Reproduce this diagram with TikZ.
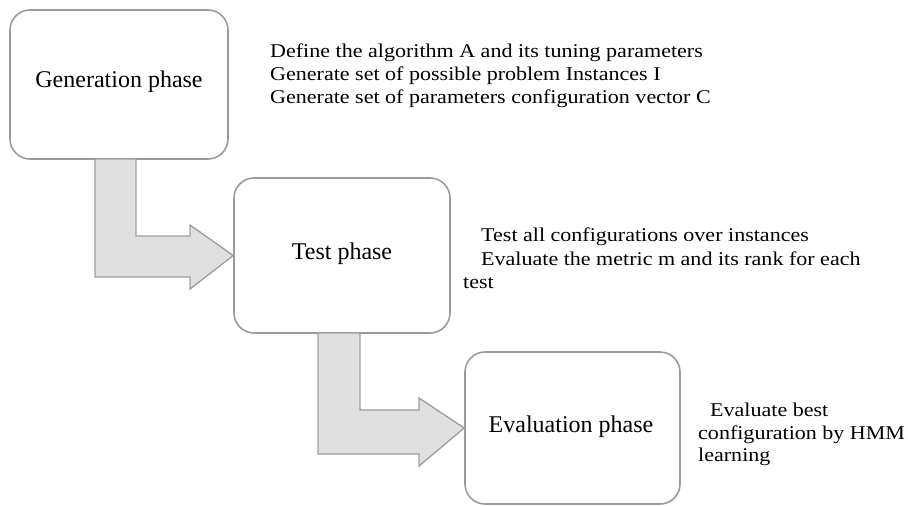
\documentclass[tikz,border=0pt]{standalone}
\usepackage{fontspec}
\usepackage{graphicx}
\setmainfont{Liberation Serif}
\definecolor{boxline}{RGB}{155,155,155}
\definecolor{arrowfill}{RGB}{224,224,224}
\definecolor{arrowline}{RGB}{160,160,160}
\tikzset{
  phasebox/.style={draw=boxline, line width=1.6pt, rounded corners=20pt, fill=white,
    inner sep=0pt},
  phaselabel/.style={anchor=base, inner sep=0pt, font=\fontsize{24}{28}\selectfont},
  blockarrow/.style={draw=arrowline, fill=arrowfill, line width=1.4pt, line join=miter},
  sidetext/.style={anchor=base west, inner sep=0pt, font=\fontsize{19.5}{22}\selectfont}
}
\newcommand{\wide}[1]{\scalebox{1.13}[1]{#1}}
\begin{document}
\begin{tikzpicture}[x=1pt,y=-1pt]
\useasboundingbox (0,0) rectangle (908,506);
\node[phasebox, minimum width=218pt, minimum height=149pt] (gen) at (119,84.5) {};
\node[phasebox, minimum width=216pt, minimum height=155pt] (test) at (342,255.5) {};
\node[phasebox, minimum width=215pt, minimum height=152pt] (eval) at (572.5,428) {};
\draw[blockarrow] (95,159) -- (95,277) -- (190,277) -- (190,289) -- (test.west)
  -- (190,225) -- (190,236) -- (136,236) -- (136,159) -- cycle;
\draw[blockarrow] (318,333) -- (318,454) -- (419,454) -- (419,466) -- (eval.west)
  -- (419,398) -- (419,410) -- (360,410) -- (360,333) -- cycle;
% box labels
\node[phaselabel] (genl) at (119,87) {Generation phase};
\node[phaselabel] (testl) at (342,259) {Test phase};
\node[phaselabel] (evall) at (571,432) {Evaluation phase};
% side texts
\node[sidetext] (g1) at (270,57) {\wide{Define the algorithm A and its tuning parameters}};
\node[sidetext] (g2) at (270,80) {\wide{Generate set of possible problem Instances I}};
\node[sidetext] (g3) at (270,103) {\wide{Generate set of parameters configuration vector C}};
\node[sidetext] (t1) at (481,241) {\wide{Test all configurations over instances}};
\node[sidetext] (t2) at (481,265) {\wide{Evaluate the metric m and its rank for each}};
\node[sidetext] (t3) at (463,288) {\wide{test}};
\node[sidetext] (e1) at (710,416) {\wide{Evaluate best}};
\node[sidetext] (e2) at (698,439) {\wide{configuration by HMM}};
\node[sidetext] (e3) at (698,461) {\wide{learning}};
\end{tikzpicture}
\end{document}
